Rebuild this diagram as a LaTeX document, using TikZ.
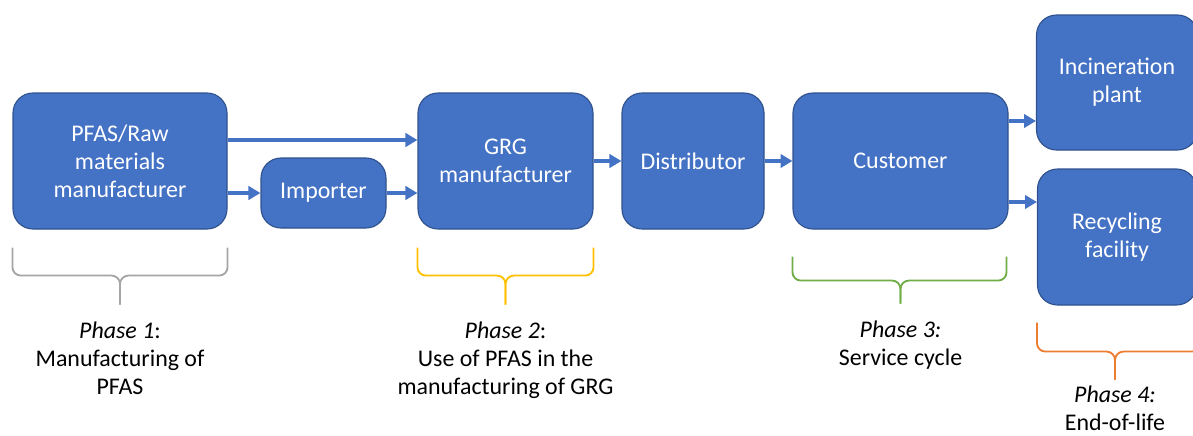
\documentclass[tikz,border=0pt]{standalone}
\usepackage{fontspec}
\setmainfont{Carlito}
\usetikzlibrary{calc,positioning,arrows.meta}
\definecolor{boxblue}{HTML}{4472C4}
\definecolor{boxedge}{HTML}{2F528F}
\definecolor{phasegray}{HTML}{A5A5A5}
\definecolor{phasegold}{HTML}{FFC000}
\definecolor{phasegreen}{HTML}{70AD47}
\definecolor{phaseorange}{HTML}{ED7D31}
\tikzset{
   actor/.style={ rectangle, fill=boxblue, draw=boxedge, line width=0.8pt, text=white, align=center, rounded corners=0.5cm, inner sep=0pt},
   flow/.style={ draw=boxblue, line width=2.6pt, ->},
   phase brace/.style={ line width=1.3pt, rounded corners=6pt},
   phase label/.style={ align=center, inner sep=0pt},
   >={Triangle[length=8.5pt,width=9.5pt]}
}

\begin{document}
\begin{tikzpicture}[font=\fontsize{17}{20}\selectfont]

  \useasboundingbox (0,0) rectangle (29.825,-10.875);

  \node[actor, minimum width=5.35cm,  minimum height=3.4cm]   at (3,-4.025)        (pfas)     {PFAS/Raw\\materials\\manufacturer};
  \node[actor, minimum width=3.125cm, minimum height=1.75cm]  at (8.0875,-4.825)   (importer) {Importer};
  \node[actor, minimum width=4.375cm, minimum height=3.4cm]   at (12.6375,-4.025)  (grg)      {GRG\\manufacturer};
  \node[actor, minimum width=3.55cm,  minimum height=3.4cm]   at (17.325,-4.025)   (dist)     {Distributor};
  \node[actor, minimum width=5.375cm, minimum height=3.4cm]   at (22.5125,-4.025)  (customer) {Customer};
  \node[actor, minimum width=4.025cm, minimum height=3.375cm] at (27.925,-2.0625)  (incin)    {Incineration\\plant};
  \node[actor, minimum width=3.975cm, minimum height=3.4cm]   at (27.925,-5.925)   (recycle)  {Recycling\\facility};

  \coordinate (top out)   at ($(pfas.east)+(0,0.525)$);
  \coordinate (upper out) at ($(customer.east)+(0,1)$);
  \coordinate (lower out) at ($(customer.east)+(0,-1.025)$);

  %%%%%%%%%%%

  \draw[flow] (top out) -- (top out -| grg.west);
  \draw[flow] (pfas.east |- importer.west) -- (importer.west);
  \draw[flow] (importer.east) -- (importer.east -| grg.west);
  \draw[flow] (grg) -- (dist);
  \draw[flow] (dist) -- (customer);
  \draw[flow] (upper out) -- (upper out -| incin.west);
  \draw[flow] (lower out) -- (lower out -| recycle.west);

  %%%%%%%%%%%

  \coordinate (p1 tip) at ($(pfas.south)+(0,-1.875)$);
  \draw[phase brace, draw=phasegray] ($(pfas.south west)+(0,-0.45)$) |- ($(pfas.south)+(0,-1.15)$) -- (p1 tip);
  \draw[phase brace, draw=phasegray] ($(pfas.south east)+(0,-0.45)$) |- ($(pfas.south)+(0,-1.15)$) -- (p1 tip);

  \coordinate (p2 tip) at ($(grg.south)+(0,-1.875)$);
  \draw[phase brace, draw=phasegold] ($(grg.south west)+(0,-0.45)$) |- ($(grg.south)+(0,-1.15)$) -- (p2 tip);
  \draw[phase brace, draw=phasegold] ($(grg.south east)+(0,-0.45)$) |- ($(grg.south)+(0,-1.15)$) -- (p2 tip);

  \coordinate (p3 tip) at ($(customer.south)+(0,-1.85)$);
  \draw[phase brace, draw=phasegreen] ($(customer.south west)+(0,-0.675)$) |- ($(customer.south)+(0,-1.275)$) -- (p3 tip);
  \draw[phase brace, draw=phasegreen] ($(customer.south east)+(-0.05,-0.675)$) |- ($(customer.south)+(0,-1.275)$) -- (p3 tip);

  \coordinate (p4 tip) at ($(recycle.south)+(-0.05,-1.85)$);
  \draw[phase brace, draw=phaseorange] ($(recycle.south west)+(0,-0.425)$) |- ($(recycle.south)+(-0.05,-1.15)$) -- (p4 tip);
  \draw[phase brace, draw=phaseorange] ($(recycle.south east)+(0.3,-0.425)$) |- ($(recycle.south)+(-0.05,-1.15)$) -- (p4 tip);

  %%%%%%%%%%%

  \node[phase label, below=0.42cm of p1 tip] (phase1) {\textit{Phase 1}:\\Manufacturing of\\PFAS};
  \node[phase label, below=0.42cm of p2 tip] (phase2) {\textit{Phase 2}:\\Use of PFAS in the\\manufacturing of GRG};
  \node[phase label, below=0.42cm of p3 tip] (phase3) {\textit{Phase 3:}\\Service cycle};
  \node[phase label, below=0.16cm of p4 tip] (phase4) {\textit{Phase 4:}\\End-of-life};

\end{tikzpicture}
\end{document}
